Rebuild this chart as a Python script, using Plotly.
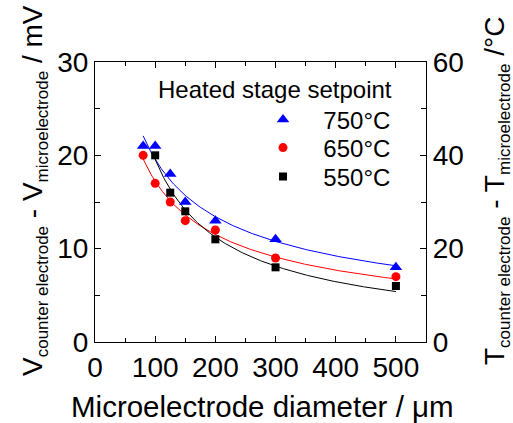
import numpy as np
import plotly.graph_objects as go

# Microelectrode diameters (µm) and measured voltage differences (mV)
d_750 = [80, 100, 125, 150, 200, 300, 500]
v_750 = [21, 21, 18, 15, 13, 11, 8]
d_650 = [80, 100, 125, 150, 200, 300, 500]
v_650 = [20, 17, 15, 13, 12, 9, 7]
d_550 = [100, 125, 150, 200, 300, 500]
v_550 = [20, 16, 14, 11, 8, 6]

series_names = ["750°C", "650°C", "550°C"]
series_colors = ["#0000ff", "#ff0000", "#000000"]
series_symbols = ["triangle-up", "circle", "square"]
series_sizes = [11, 9, 8]
legend_ids = ["legend", "legend2", "legend3"]
legend_rows_px = [120, 148, 177]   # vertical centre of each legend row

FONT = "Liberation Sans, Arial, sans-serif"
PLOT_L, PLOT_R, PLOT_T, PLOT_B = 95, 426, 62, 342


def px_x(px):
    return (px - PLOT_L) / (PLOT_R - PLOT_L)


def px_y(py):
    return (PLOT_B - py) / (PLOT_B - PLOT_T)


def power_fit(x, y):
    """Least-squares fit of y = a * x**b (linear space, scanned exponent)."""
    x = np.asarray(x, float)
    y = np.asarray(y, float)
    best = None
    for b in np.linspace(-2.0, 0.0, 4001):
        xb = x ** b
        a = np.dot(y, xb) / np.dot(xb, xb)
        sse = np.sum((y - a * xb) ** 2)
        if best is None or sse < best[0]:
            best = (sse, a, b)
    return best[1], best[2]


fig = go.Figure()

data = [(d_750, v_750), (d_650, v_650), (d_550, v_550)]
for (x, y), col in zip(data, series_colors):
    a, b = power_fit(x, y)
    xf = np.linspace(min(x), max(x), 200)
    fig.add_trace(go.Scatter(x=xf, y=a * xf ** b, mode="lines",
                             line=dict(color=col, width=1),
                             showlegend=False, hoverinfo="skip"))
for (x, y), name, col, sym, sz, lg in zip(data, series_names, series_colors,
                                          series_symbols, series_sizes,
                                          legend_ids):
    # non-breaking spaces widen the gap between symbol and label
    fig.add_trace(go.Scatter(x=x, y=y, mode="markers",
                             name="\u00a0\u00a0" + name, legend=lg,
                             marker=dict(symbol=sym, size=sz, color=col,
                                         line=dict(width=0))))

# invisible trace to carry the right-hand temperature axis
fig.add_trace(go.Scatter(x=[None], y=[None], yaxis="y2", showlegend=False))

axis_common = dict(
    showline=True, linecolor="black", linewidth=1.2,
    ticks="inside", ticklen=6, tickwidth=1.2, tickcolor="black",
    showgrid=False, zeroline=False,
    tickfont=dict(family=FONT, size=28, color="black"),
)

legend_style = dict(xanchor="left", yanchor="middle", itemwidth=44,
                    font=dict(family=FONT, size=24, color="black"),
                    bgcolor="rgba(0,0,0,0)", borderwidth=0)

fig.update_layout(
    width=513, height=423,
    margin=dict(l=PLOT_L, r=513 - PLOT_R, t=PLOT_T, b=423 - PLOT_B),
    paper_bgcolor="white", plot_bgcolor="white",
    font=dict(family=FONT, color="black"),
    xaxis=dict(range=[0, 550], dtick=100, tick0=0, mirror="ticks",
               minor=dict(dtick=50, ticks="inside", ticklen=4,
                          tickcolor="black", tickwidth=1.2),
               **axis_common),
    yaxis=dict(range=[0, 30], dtick=10, tick0=0,
               minor=dict(dtick=5, ticks="inside", ticklen=5,
                          tickcolor="black", tickwidth=1.2),
               **axis_common),
    yaxis2=dict(range=[0, 60], dtick=20, tick0=0, overlaying="y",
                side="right",
                minor=dict(dtick=10, ticks="inside", ticklen=5,
                           tickcolor="black", tickwidth=1.2),
                **axis_common),
    showlegend=True,
)
for lg, row in zip(legend_ids, legend_rows_px):
    fig.update_layout({lg: dict(x=px_x(256), y=px_y(row), **legend_style)})

annotations = [
    dict(text="Heated stage setpoint", x=px_x(156), y=px_y(89),
         xanchor="left", yanchor="middle",
         font=dict(family=FONT, size=24, color="black")),
    dict(text="Microelectrode diameter / \u03bcm", x=px_x(262.5),
         y=px_y(406), xanchor="center", yanchor="middle",
         font=dict(family=FONT, size=29.5, color="black")),
    dict(text="V<sub><span style='font-size:17px'>counter electrode</span></sub>"
              " - V<sub><span style='font-size:17px'>microelectrode</span></sub> / mV",
         x=px_x(34), y=px_y(191), textangle=-90,
         xanchor="center", yanchor="middle",
         font=dict(family=FONT, size=28, color="black")),
    dict(text="T<sub><span style='font-size:17px'>counter electrode</span></sub>"
              " - T<sub><span style='font-size:17px'>microelectrode</span></sub> /°C",
         x=px_x(496), y=px_y(191), textangle=-90,
         xanchor="center", yanchor="middle",
         font=dict(family=FONT, size=28, color="black")),
]
for an in annotations:
    an.update(xref="paper", yref="paper", showarrow=False)
fig.update_layout(annotations=annotations)

fig.write_html("out.html")
